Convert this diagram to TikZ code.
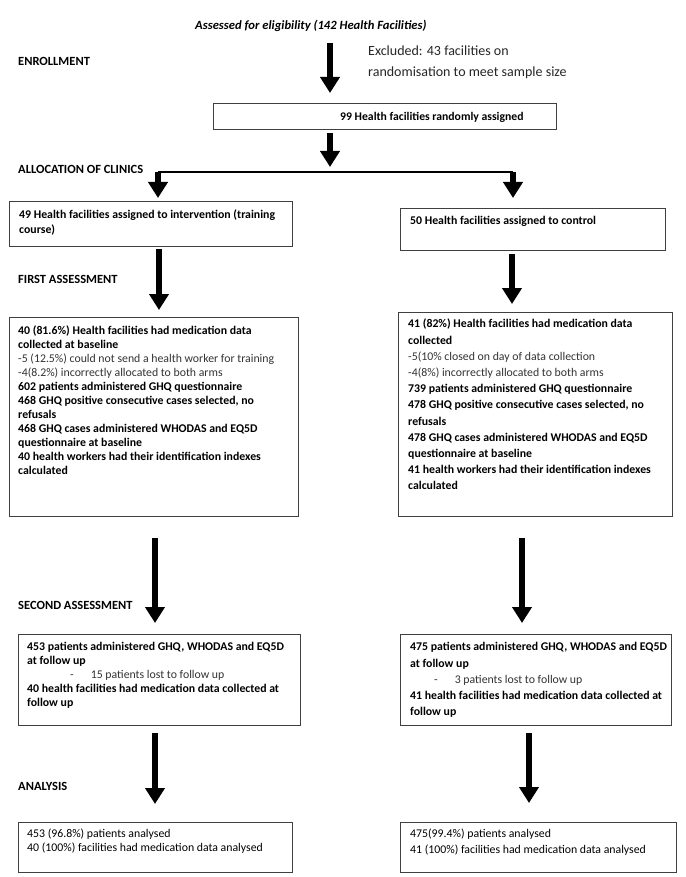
\documentclass[tikz,border=0pt]{standalone}
\usepackage{fontspec}
\setmainfont{Carlito}
\usetikzlibrary{arrows.meta}
\begin{document}
\begin{tikzpicture}[x=1pt,y=-1pt,
 box/.style={draw=black!75, line width=1pt, anchor=north west, inner sep=0pt, outer sep=0pt},
 txt/.style={anchor=north west, inner sep=0pt, align=left, font=\fontsize{11.8}{14}\selectfont\bfseries},
 txtR/.style={txt, font=\fontsize{11.8}{16.2}\selectfont\bfseries},
 lab/.style={anchor=base west, inner sep=0pt, font=\fontsize{12.5}{14}\selectfont\bfseries},
 bigarrow/.style={line width=6.5pt, -{Triangle[width=19pt,length=16pt]}},
 thinline/.style={line width=1.3pt}
]
\useasboundingbox[fill=white] (0,0) rectangle (685,877);
\newcommand{\rg}[1]{{\mdseries\color{black!80}#1}}

% column coordinates
\coordinate (xc) at (330,0);
\coordinate (xl3) at (159,0);
\coordinate (xr3) at (512,0);
\coordinate (xl4) at (155,0);
\coordinate (xr4) at (522,0);
\coordinate (xl5) at (155,0);
\coordinate (xr5) at (529,0);
\coordinate (sl) at (158,172);
\coordinate (sm) at (330,172);
\coordinate (sr) at (513,172);

% title and exclusion
\node[anchor=base west, inner sep=0pt, font=\fontsize{12.6}{14}\selectfont\bfseries\itshape] (title) at (195,30) {Assessed for eligibility (142 Health Facilities)};
\node[anchor=north west, inner sep=0pt, align=left, font=\fontsize{14}{21}\selectfont, text=black!85] (excl) at (368,45.7) {Excluded: 43 facilities on\\randomisation to meet sample size};

% stage labels
\node[lab] (lenr) at (18,66) {ENROLLMENT};
\node[lab] (lall) at (18,174) {ALLOCATION OF CLINICS};
\node[lab] (lfirst) at (18,283) {FIRST ASSESSMENT};
\node[lab] (lsecond) at (18,609) {SECOND ASSESSMENT};
\node[lab] (lana) at (18,790) {ANALYSIS};

% boxes
\node[box, minimum width=343pt, minimum height=26pt] (b99) at (213,104) {};
\node[box, minimum width=283pt, minimum height=44pt] (b49) at (9,202) {};
\node[box, minimum width=265pt, minimum height=41pt] (b50) at (400,209) {};
\node[box, minimum width=289pt, minimum height=199pt] (bL1) at (9,317) {};
\node[box, minimum width=274pt, minimum height=204pt] (bR1) at (398,312) {};
\node[box, minimum width=282pt, minimum height=91pt] (bL2) at (18,634) {};
\node[box, minimum width=271pt, minimum height=91pt] (bR2) at (400,634) {};
\node[box, minimum width=274pt, minimum height=50pt] (bL3) at (18,822) {};
\node[box, minimum width=276pt, minimum height=50pt] (bR3) at (400,822) {};

% box texts
\node[anchor=base west, inner sep=0pt, font=\fontsize{11.7}{14}\selectfont\bfseries] (t99) at (340,120.8) {99 Health facilities randomly assigned};
\node[txt, font=\fontsize{11.8}{15}\selectfont\bfseries] (t49) at (19,210) {49 Health facilities assigned to intervention (training\\course)};
\node[txt] (t50) at (410,216.5) {50 Health facilities assigned to control};
\node[txt] (tL1) at (18,326) {40 (81.6\%) Health facilities had medication data\\collected at baseline\\\rg{-5 (12.5\%) could not send a health worker for training}\\\rg{-4(8.2\%) incorrectly allocated to both arms}\\602 patients administered GHQ questionnaire\\468 GHQ positive consecutive cases selected, no\\refusals\\468 GHQ cases administered WHODAS and EQ5D\\questionnaire at baseline\\40 health workers had their identification indexes\\calculated};
\node[txtR] (tR1) at (408,319) {41 (82\%) Health facilities had medication data\\collected\\\rg{-5(10\% closed on day of data collection}\\\rg{-4(8\%) incorrectly allocated to both arms}\\739 patients administered GHQ questionnaire\\478 GHQ positive consecutive cases selected, no\\refusals\\478 GHQ cases administered WHODAS and EQ5D\\questionnaire at baseline\\41 health workers had their identification indexes\\calculated};
\node[txt] (tL2) at (27,642.3) {453 patients administered GHQ, WHODAS and EQ5D\\at follow up\\\rg{\hspace*{43pt}-\hspace*{17pt}15 patients lost to follow up}\\40 health facilities had medication data collected at\\follow up};
\node[txtR] (tR2) at (410,642.3) {475 patients administered GHQ, WHODAS and EQ5D\\at follow up\\\rg{\hspace*{24pt}-\hspace*{17pt}3 patients lost to follow up}\\41 health facilities had medication data collected at\\follow up};
\node[txt, font=\fontsize{11.8}{14}\selectfont\mdseries] (tL3) at (27,829) {453 (96.8\%) patients analysed\\40 (100\%) facilities had medication data analysed};
\node[txtR, font=\fontsize{11.8}{16}\selectfont\mdseries] (tR3) at (410,829) {475(99.4\%) patients analysed\\41 (100\%) facilities had medication data analysed};

% connectors
\draw[bigarrow, shorten <=11pt, shorten >=11pt] (title.south -| xc) -- (b99.north -| xc);
\draw[bigarrow, shorten <=3pt, shorten >=5pt] (b99.south -| xc) -- (sm);
\draw[thinline] (sl) -- (sr);
\draw[bigarrow, shorten >=4pt] (sl) -- (b49.north -| sl);
\draw[bigarrow, shorten >=11pt] (sr) -- (b50.north -| sr);
\draw[bigarrow, shorten <=3pt, shorten >=7pt] (b49.south -| xl3) -- (bL1.north -| xl3);
\draw[bigarrow, shorten <=4pt, shorten >=8pt] (b50.south -| xr3) -- (bR1.north -| xr3);
\draw[bigarrow, shorten <=22pt, shorten >=11pt] (bL1.south -| xl4) -- (bL2.north -| xl4);
\draw[bigarrow, shorten <=22pt, shorten >=11pt] (bR1.south -| xr4) -- (bR2.north -| xr4);
\draw[bigarrow, shorten <=8pt, shorten >=18pt] (bL2.south -| xl5) -- (bL3.north -| xl5);
\draw[bigarrow, shorten <=8pt, shorten >=19pt] (bR2.south -| xr5) -- (bR3.north -| xr5);
\end{tikzpicture}
\end{document}
